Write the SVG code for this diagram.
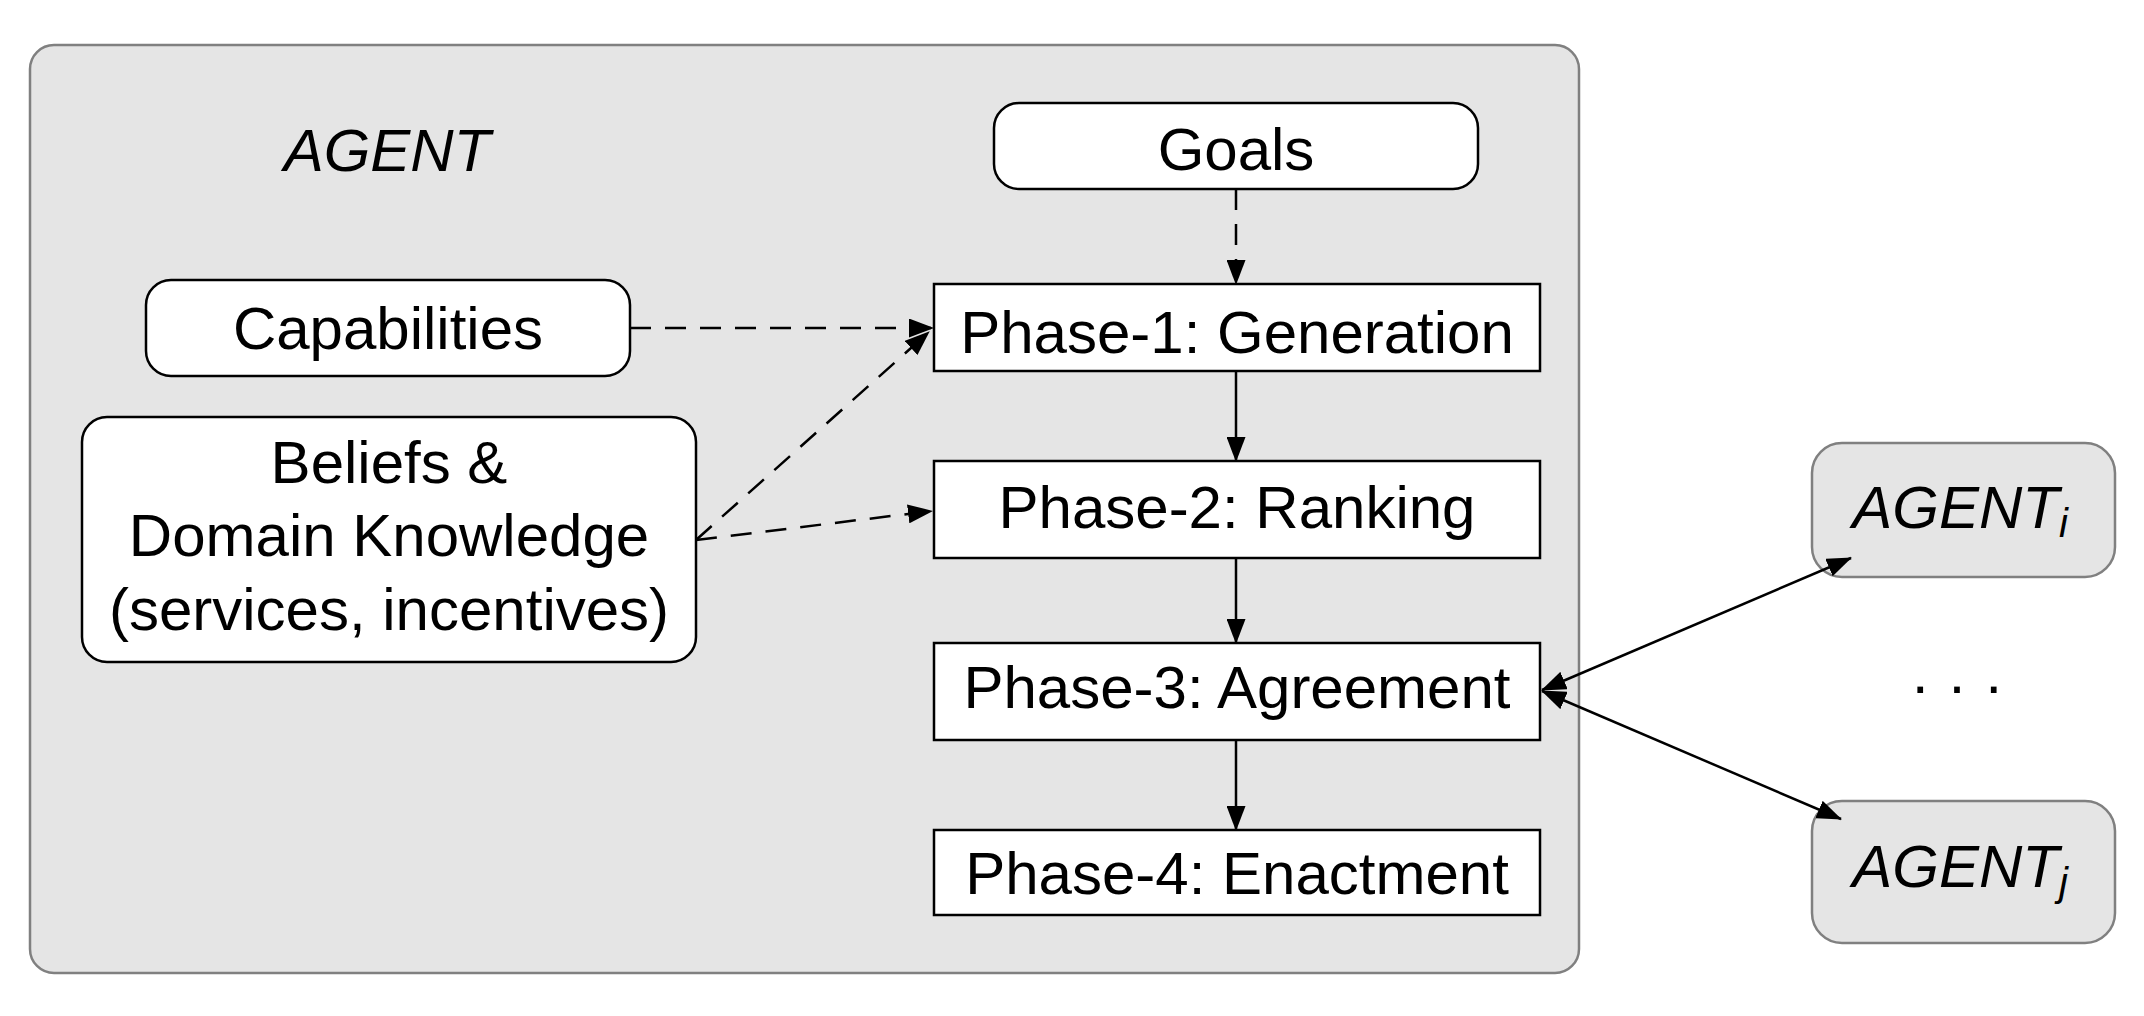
<svg xmlns="http://www.w3.org/2000/svg" width="2144" height="1016" viewBox="0 0 2144 1016">
<defs>
<marker id="ah" viewBox="0 0 25 19" refX="24" refY="9.5" markerWidth="25" markerHeight="19" markerUnits="userSpaceOnUse" orient="auto-start-reverse">
<path d="M0,0 L25,9.5 L0,19 z" fill="#000"/>
</marker>
<style>
text{font-family:"Liberation Sans",Arial,sans-serif;font-size:60px;fill:#000;text-anchor:middle}
.it{font-style:italic}
.wb{fill:#fff;stroke:#000;stroke-width:2.5}
.gb{fill:#e5e5e5;stroke:#808080;stroke-width:2.5}
.c{fill:none;stroke:#000;stroke-width:2.5}
.d{stroke-dasharray:21 14}
</style>
</defs>
<rect width="2144" height="1016" fill="#fff"/>
<g id="agent">
<rect class="gb" x="30" y="45" width="1549" height="928" rx="24"/>
<text class="it" x="387" y="171">AGENT</text>
</g>
<g id="goals"><rect class="wb" x="994" y="103" width="484" height="86" rx="25"/><text x="1236" y="170">Goals</text></g>
<g id="capabilities"><rect class="wb" x="146" y="280" width="484" height="96" rx="25"/><text x="388" y="349">Capabilities</text></g>
<g id="beliefs"><rect class="wb" x="82" y="417" width="614" height="245" rx="25"/>
<text x="389" y="483">Beliefs &amp;</text><text x="389" y="556">Domain Knowledge</text><text x="389" y="630">(services, incentives)</text></g>
<g id="phase1"><rect class="wb" x="934" y="284" width="606" height="87"/><text x="1237" y="353">Phase-1: Generation</text></g>
<g id="phase2"><rect class="wb" x="934" y="461" width="606" height="97"/><text x="1237" y="528">Phase-2: Ranking</text></g>
<g id="phase3"><rect class="wb" x="934" y="643" width="606" height="97"/><text x="1237" y="708">Phase-3: Agreement</text></g>
<g id="phase4"><rect class="wb" x="934" y="830" width="606" height="85"/><text x="1237" y="894">Phase-4: Enactment</text></g>
<g id="agent_i"><rect class="gb" x="1812" y="443" width="303" height="134" rx="30"/><text class="it" x="1960" y="528">AGENT<tspan font-size="40" dy="9">i</tspan></text></g>
<g id="agent_j"><rect class="gb" x="1812" y="801" width="303" height="142" rx="30"/><text class="it" x="1960" y="887">AGENT<tspan font-size="40" dy="9">j</tspan></text></g>
<g id="dots"><text x="1957" y="706" font-size="50">· · ·</text></g>
<g id="connectors">
<line class="c d" x1="1236" y1="189" x2="1236" y2="284" marker-end="url(#ah)"/>
<line class="c d" x1="630" y1="328" x2="933" y2="328" marker-end="url(#ah)"/>
<line class="c d" x1="696" y1="540" x2="929" y2="332" marker-end="url(#ah)"/>
<line class="c d" x1="696" y1="540" x2="932" y2="511" marker-end="url(#ah)"/>
<line class="c" x1="1236" y1="371" x2="1236" y2="461" marker-end="url(#ah)"/>
<line class="c" x1="1236" y1="558" x2="1236" y2="643" marker-end="url(#ah)"/>
<line class="c" x1="1236" y1="740" x2="1236" y2="830" marker-end="url(#ah)"/>
<line class="c" x1="1542" y1="690" x2="1851" y2="558" marker-start="url(#ah)" marker-end="url(#ah)"/>
<line class="c" x1="1542" y1="691" x2="1841" y2="819" marker-start="url(#ah)" marker-end="url(#ah)"/>
</g>
</svg>
